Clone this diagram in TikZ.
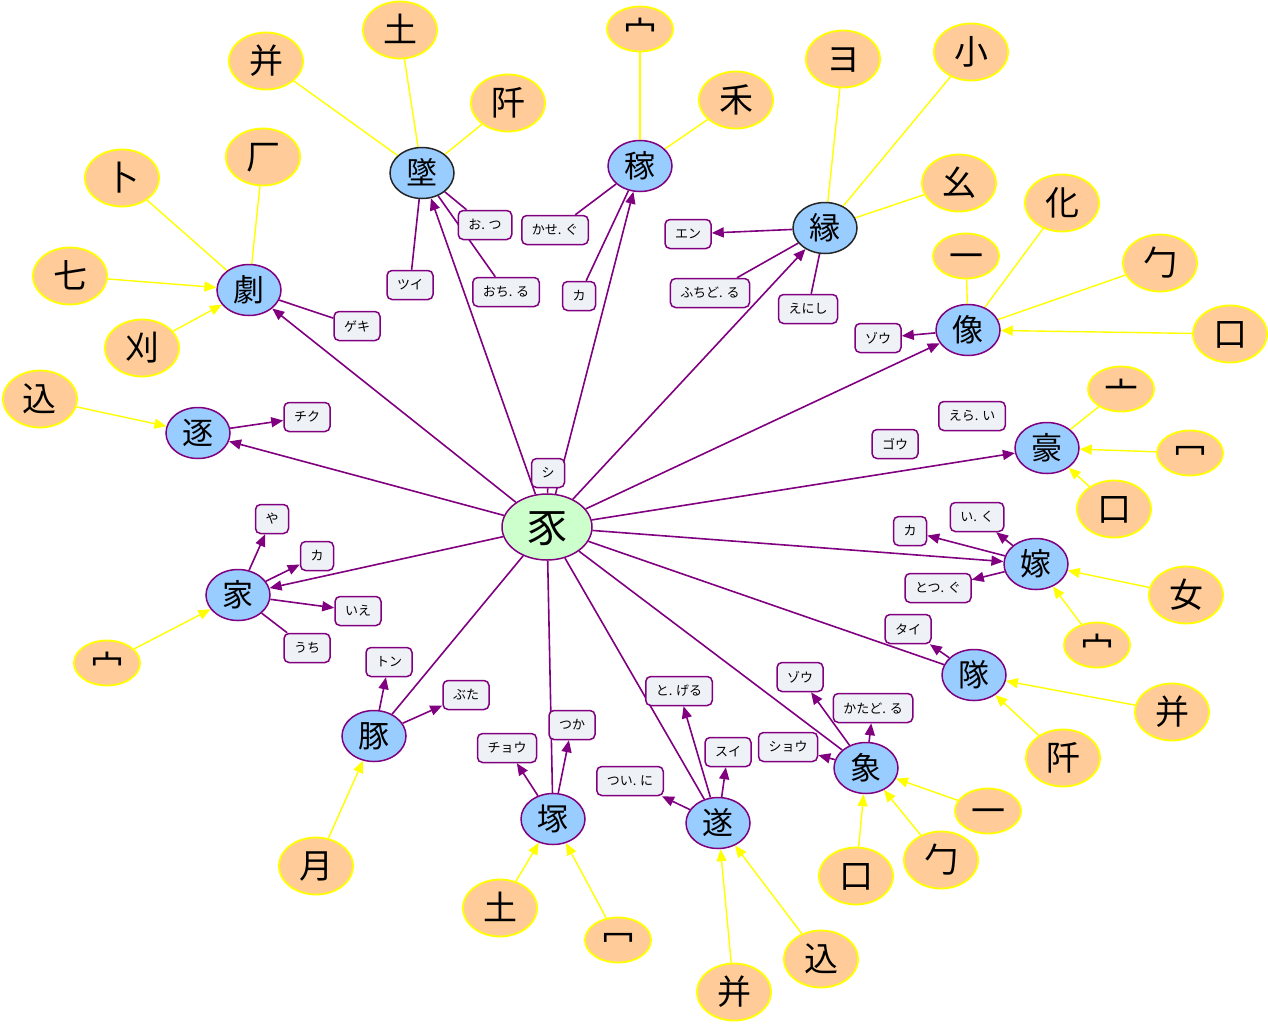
\documentclass[tikz,border=0pt]{standalone}
\usepackage{fontspec}
\setmainfont{Noto Sans CJK JP}
\usetikzlibrary{shapes.geometric,arrows.meta,backgrounds}
\definecolor{bfill}{HTML}{99CCFF}
\definecolor{ofill}{HTML}{FFCC99}
\definecolor{gfill}{HTML}{CCFFCC}
\definecolor{pur}{HTML}{800080}
\definecolor{yel}{HTML}{FFFF00}
\definecolor{lfill}{HTML}{EEF2F6}
\newcommand\kc[1]{\smash{\raisebox{-0.38em}{#1}}}
\begin{document}
\begin{tikzpicture}[x=1pt,y=-1pt,
 kb/.style={ellipse,draw=pur,line width=1.5pt,fill=bfill,minimum width=64pt,minimum height=51pt,inner sep=0pt,font=\fontsize{31}{31}\selectfont},
 kbd/.style={kb,draw=black!85},
 kg/.style={ellipse,draw=pur,line width=1.5pt,fill=gfill,minimum width=90pt,minimum height=66pt,inner sep=0pt,font=\fontsize{40}{40}\selectfont},
 ko/.style={ellipse,draw=yel,line width=1.8pt,fill=ofill,minimum width=74pt,minimum height=57pt,inner sep=0pt,font=\fontsize{34}{34}\selectfont},
 kof/.style={ko,minimum width=66pt,minimum height=45pt},
 lab/.style={rectangle,rounded corners=5pt,draw=pur,line width=1.5pt,fill=lfill,minimum height=29pt,inner xsep=10pt,inner ysep=0pt,font=\fontsize{13}{13}\selectfont},
 pl/.style={draw=pur,line width=1.6pt},
 pa/.style={pl,-{Triangle[length=12pt,width=10pt]}},
 yl/.style={draw=yel,line width=1.4pt},
 ya/.style={yl,-{Triangle[length=12pt,width=10pt]}}
]
\useasboundingbox (0,0) rectangle (1268,1023);

% centre
\node[kg] (c) at (547,527) {\kc{豕}};

% blue nodes
\node[kbd] (z1) at (422,173) {\kc{墜}};
\node[kb] (z2) at (640,166) {\kc{稼}};
\node[kbd] (z3) at (825,228) {\kc{縁}};
\node[kb] (z4) at (249,290) {\kc{劇}};
\node[kb] (z5) at (968,330) {\kc{像}};
\node[kb] (z6) at (198,433) {\kc{逐}};
\node[kb] (z7) at (1047,448) {\kc{豪}};
\node[kb] (z8) at (1036,564) {\kc{嫁}};
\node[kb] (z9) at (238,595) {\kc{家}};
\node[kb] (z10) at (974,675) {\kc{隊}};
\node[kb] (z11) at (374,736) {\kc{豚}};
\node[kb] (z12) at (866,768) {\kc{象}};
\node[kb] (z13) at (553,819) {\kc{塚}};
\node[kb] (z14) at (718,823) {\kc{遂}};

% orange nodes
\node[ko] (o1) at (266,61) {\kc{并}};
\node[ko] (o2) at (400,30) {\kc{土}};
\node[ko] (o3) at (508,103) {\kc{阡}};
\node[kof] (o4) at (640,29) {\kc{宀}};
\node[ko] (o5) at (736,100) {\kc{禾}};
\node[ko] (o6) at (843,59) {\kc{ヨ}};
\node[ko] (o7) at (971,52) {\kc{小}};
\node[ko] (o8) at (959,183) {\kc{幺}};
\node[ko] (o9) at (1062,203) {\kc{化}};
\node[kof] (o10) at (966,256) {\kc{一}};
\node[ko] (o11) at (1160,263) {\kc{勹}};
\node[ko] (o12) at (1230,334) {\kc{口}};
\node[ko] (o13) at (122,178) {\kc{卜}};
\node[ko] (o14) at (263,157) {\kc{厂}};
\node[ko] (o15) at (70,276) {\kc{七}};
\node[ko] (o16) at (142,348) {\kc{刈}};
\node[ko] (o17) at (40,399) {\kc{込}};
\node[kof] (o18) at (1121,389) {\kc{亠}};
\node[kof] (o19) at (1190,453) {\kc{冖}};
\node[ko] (o20) at (1114,509) {\kc{口}};
\node[ko] (o21) at (1186,595) {\kc{女}};
\node[kof] (o22) at (1097,645) {\kc{宀}};
\node[kof] (o23) at (107,663) {\kc{宀}};
\node[ko] (o24) at (1172,712) {\kc{并}};
\node[ko] (o25) at (1063,758) {\kc{阡}};
\node[kof] (o26) at (988,811) {\kc{一}};
\node[ko] (o27) at (941,860) {\kc{勹}};
\node[ko] (o28) at (856,876) {\kc{口}};
\node[ko] (o29) at (316,866) {\kc{月}};
\node[ko] (o30) at (500,908) {\kc{土}};
\node[kof] (o31) at (618,940) {\kc{冖}};
\node[ko] (o32) at (734,992) {\kc{并}};
\node[ko] (o33) at (821,959) {\kc{込}};

% reading labels
\node[lab] (r0) at (548,473) {シ};
\node[lab] (r1) at (410,285) {ツイ};
\node[lab] (r2) at (485,225) {お. つ};
\node[lab] (r3) at (506,292) {おち. る};
\node[lab] (r4) at (555,230) {かせ. ぐ};
\node[lab] (r5) at (579,296) {カ};
\node[lab] (r6) at (688,234) {エン};
\node[lab] (r7) at (710,293) {ふちど. る};
\node[lab] (r8) at (808,309) {えにし};
\node[lab] (r9) at (357,326) {ゲキ};
\node[lab] (r10) at (307,417) {チク};
\node[lab] (r11) at (878,338) {ゾウ};
\node[lab] (r12) at (895,444) {ゴウ};
\node[lab] (r13) at (972,416) {えら. い};
\node[lab] (r14) at (910,531) {カ};
\node[lab] (r15) at (977,517) {い. く};
\node[lab] (r16) at (938,588) {とつ. ぐ};
\node[lab] (r17) at (272,519) {や};
\node[lab] (r18) at (317,556) {カ};
\node[lab] (r19) at (358,611) {いえ};
\node[lab] (r20) at (307,648) {うち};
\node[lab] (r21) at (389,662) {トン};
\node[lab] (r22) at (466,695) {ぶた};
\node[lab] (r23) at (507,748) {チョウ};
\node[lab] (r24) at (572,725) {つか};
\node[lab] (r25) at (630,781) {つい. に};
\node[lab] (r26) at (679,691) {と. げる};
\node[lab] (r27) at (728,752) {スイ};
\node[lab] (r28) at (800,677) {ゾウ};
\node[lab] (r29) at (873,708) {かたど. る};
\node[lab] (r30) at (788,747) {ショウ};
\node[lab] (r31) at (908,629) {タイ};

\begin{scope}[on background layer]
\fill[white] (0,0) rectangle (1268,1023);
% centre to kanji
\foreach \t in {z1,z2,z3,z4,z5,z6,z7,z8,z9} \draw[pa] (c) -- (\t);
\foreach \t in {z10,z11,z12,z13,z14} \draw[pl] (c) -- (\t);
\draw[pl] (c) -- (r0);
% readings
\draw[pl] (z1) -- (r1);
\draw[pl] (z1) -- (r2);
\draw[pl] (z1) -- (r3);
\draw[pl] (z2) -- (r4);
\draw[pl] (z2) -- (r5);
\draw[pa] (z3) -- (r6);
\draw[pl] (z3) -- (r7);
\draw[pl] (z3) -- (r8);
\draw[pl] (z4) -- (r9);
\draw[pa] (z6) -- (r10);
\draw[pa] (z5) -- (r11);
\draw[pa] (z8) -- (r14);
\draw[pa] (z8) -- (r15);
\draw[pa] (z8) -- (r16);
\draw[pa] (z9) -- (r17);
\draw[pa] (z9) -- (r18);
\draw[pa] (z9) -- (r19);
\draw[pl] (z9) -- (r20);
\draw[pa] (z11) -- (r21);
\draw[pa] (z11) -- (r22);
\draw[pa] (z13) -- (r23);
\draw[pa] (z13) -- (r24);
\draw[pa] (z14) -- (r25);
\draw[pa] (z14) -- (r26);
\draw[pa] (z14) -- (r27);
\draw[pa] (z12) -- (r28);
\draw[pa] (z12) -- (r29);
\draw[pa] (z12) -- (r30);
\draw[pa] (z10) -- (r31);
% components
\foreach \s in {o1,o2,o3} \draw[yl] (\s) -- (z1);
\foreach \s in {o4,o5} \draw[yl] (\s) -- (z2);
\foreach \s in {o6,o7,o8} \draw[yl] (\s) -- (z3);
\foreach \s in {o9,o10,o11} \draw[yl] (\s) -- (z5);
\draw[ya] (o12) -- (z5);
\foreach \s in {o13,o14} \draw[yl] (\s) -- (z4);
\foreach \s in {o15,o16} \draw[ya] (\s) -- (z4);
\draw[ya] (o17) -- (z6);
\draw[yl] (o18) -- (z7);
\foreach \s in {o19,o20} \draw[ya] (\s) -- (z7);
\foreach \s in {o21,o22} \draw[ya] (\s) -- (z8);
\draw[ya] (o23) -- (z9);
\foreach \s in {o24,o25} \draw[ya] (\s) -- (z10);
\foreach \s in {o26,o27,o28} \draw[ya] (\s) -- (z12);
\draw[ya] (o29) -- (z11);
\foreach \s in {o30,o31} \draw[ya] (\s) -- (z13);
\foreach \s in {o32,o33} \draw[ya] (\s) -- (z14);
\end{scope}
\end{tikzpicture}
\end{document}
